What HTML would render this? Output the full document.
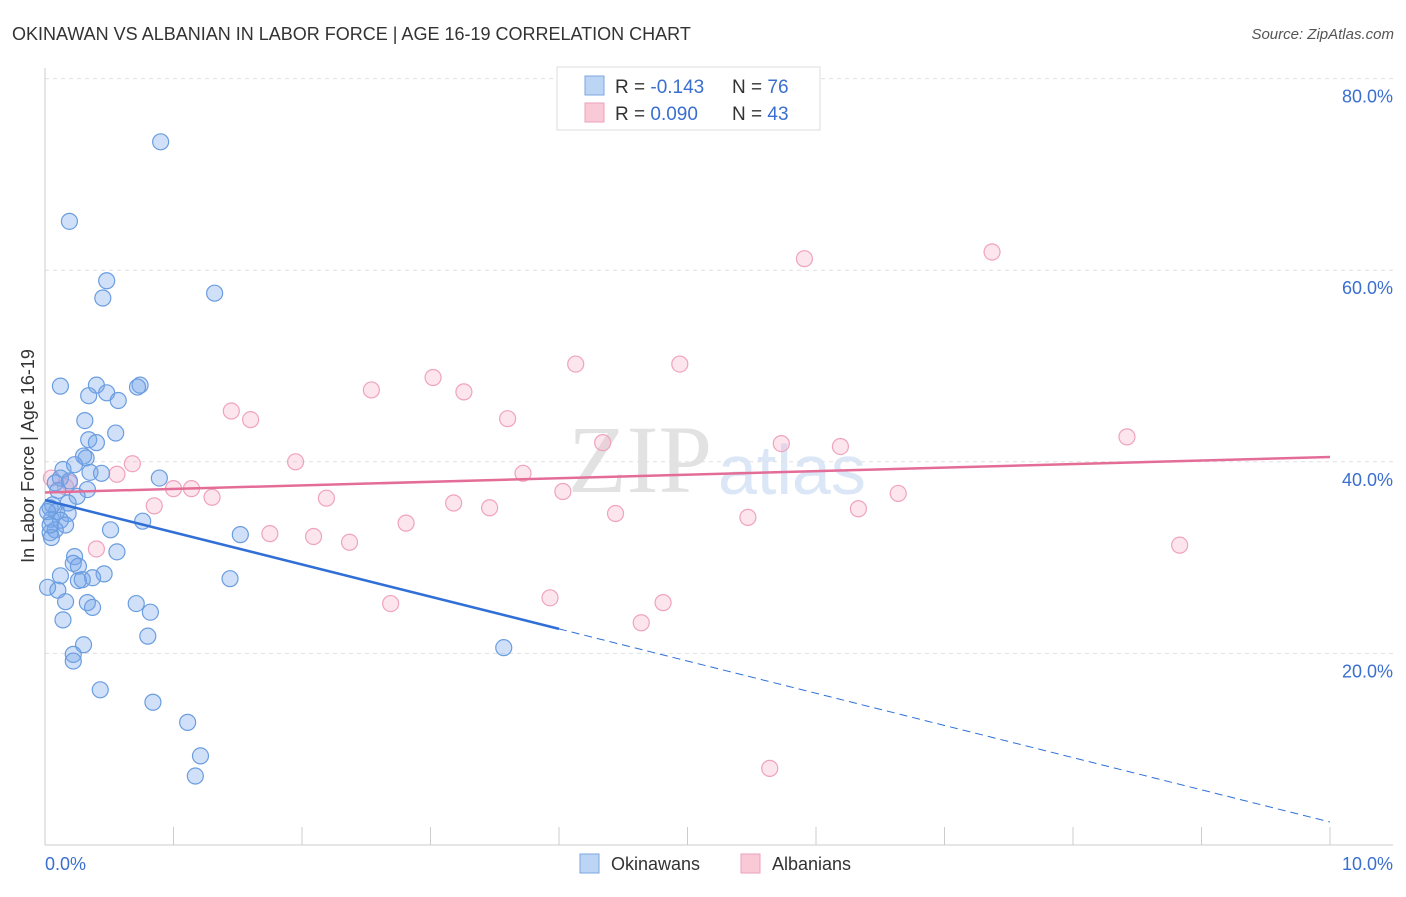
<!DOCTYPE html>
<html><head><meta charset="utf-8"><style>
body{margin:0;background:#fff;font-family:"Liberation Sans",sans-serif}
svg text{font-family:"Liberation Sans",sans-serif}
</style></head><body>
<svg id="chart" width="1406" height="892">
<text x="12" y="40" font-size="18" fill="#333">OKINAWAN VS ALBANIAN IN LABOR FORCE | AGE 16-19 CORRELATION CHART</text>
<text x="1394" y="39" font-size="15" fill="#555" font-style="italic" text-anchor="end">Source: ZipAtlas.com</text>
<text x="712" y="492" font-size="96" fill="#e2e2e2" style="font-family:'Liberation Serif',serif" text-anchor="end">ZIP</text>
<text x="718" y="494" font-size="70" fill="#dbe7f6">atlas</text>
<g id="grid"></g>
<g id="axes"></g>
<g id="marks"></g>
<text transform="translate(34,456) rotate(-90)" font-size="18" fill="#333" text-anchor="middle">In Labor Force | Age 16-19</text>
<text x="45" y="870" font-size="18" fill="#3a6fd0">0.0%</text>
<text x="1393" y="870" font-size="18" fill="#3a6fd0" text-anchor="end">10.0%</text>
<g>
<rect x="557" y="67" width="263" height="63" fill="#fff" stroke="#ddd"/>
<rect x="585" y="76" width="19" height="19" fill="#bcd5f5" stroke="#7aa6e0"/>
<rect x="585" y="103" width="19" height="19" fill="#f9c9d8" stroke="#eba2ba"/>
<text x="615" y="93" font-size="19" fill="#333">R = <tspan fill="#3a6fd0">-0.143</tspan><tspan x="732">N = </tspan><tspan fill="#3a6fd0">76</tspan></text>
<text x="615" y="120" font-size="19" fill="#333">R = <tspan fill="#3a6fd0">0.090</tspan><tspan x="732">N = </tspan><tspan fill="#3a6fd0">43</tspan></text>
</g>
<g>
<rect x="580" y="854" width="19" height="19" fill="#bcd5f5" stroke="#7aa6e0"/>
<text x="611" y="870" font-size="18" fill="#333">Okinawans</text>
<rect x="741" y="854" width="19" height="19" fill="#f9c9d8" stroke="#eba2ba"/>
<text x="772" y="870" font-size="18" fill="#333">Albanians</text>
</g>
</svg>
<script>
const yTicks=[20,40,60,80];
const xTicks=[0,1,2,3,4,5,6,7,8,9,10];
const okiX=[0.90,0.19,0.48,0.45,1.32,0.12,0.40,0.74,0.72,0.34,0.48,0.57,0.31,0.55,0.34,0.40,0.30,0.32,0.14,0.23,0.35,0.44,0.12,0.19,0.08,0.10,0.33,0.25,0.18,0.04,0.09,0.18,0.05,0.12,0.16,0.08,0.04,0.51,0.76,1.52,0.05,0.56,0.23,0.22,0.26,0.12,0.46,0.37,0.26,0.29,0.02,0.10,0.16,0.33,0.71,0.82,0.37,0.14,0.80,0.30,0.22,0.22,3.57,1.44,0.43,0.84,1.11,1.21,1.17,0.89,0.06,0.02,0.04];
const okiY=[73.4,65.1,58.9,57.1,57.6,47.9,48.0,48.0,47.8,46.9,47.2,46.4,44.3,43.0,42.3,42.0,40.6,40.4,39.2,39.7,38.9,38.8,38.3,38.0,37.8,37.0,37.1,36.4,35.7,35.2,34.8,34.6,34.0,33.9,33.4,32.9,32.6,32.9,33.8,32.4,32.1,30.6,30.1,29.4,29.1,28.1,28.3,27.9,27.6,27.7,26.9,26.6,25.4,25.3,25.2,24.3,24.8,23.5,21.8,20.9,19.9,19.2,20.6,27.8,16.2,14.9,12.8,9.3,7.2,38.3,35.5,34.8,33.4];
const albX=[0.05,0.16,0.19,0.56,0.68,0.40,0.85,1.00,1.14,1.30,1.45,1.60,1.75,1.95,2.09,2.19,2.37,2.54,2.69,2.81,3.02,3.18,3.26,3.46,3.60,3.72,3.93,4.03,4.13,4.34,4.44,4.64,4.81,4.94,5.47,5.64,5.73,5.91,6.19,6.33,6.64,7.37,8.42,8.83];
const albY=[38.3,37.4,37.8,38.7,39.8,30.9,35.4,37.2,37.2,36.3,45.3,44.4,32.5,40.0,32.2,36.2,31.6,47.5,25.2,33.6,48.8,35.7,47.3,35.2,44.5,38.8,25.8,36.9,50.2,42.0,34.6,23.2,25.3,50.2,34.2,8.0,41.9,61.2,41.6,35.1,36.7,61.9,42.6,31.3];
const okiTrend=[36.0,2.4];
const albTrend=[36.8,40.5];
const okiSolidEnd=4;
const NS='http://www.w3.org/2000/svg';
const X=v=>45+v*128.5, Y=v=>845-v*9.58;
function mk(t,a,p){const e=document.createElementNS(NS,t);for(const k in a)e.setAttribute(k,a[k]);p.appendChild(e);return e;}
const grid=document.getElementById('grid'),axes=document.getElementById('axes'),marks=document.getElementById('marks');
yTicks.forEach(t=>{
 const l=mk('line',{x1:45,x2:1393,y1:Y(t),y2:Y(t),stroke:'#e0e0e0','stroke-dasharray':'4,4'},grid);
 
 
 const tx=mk('text',{x:1393,y:Y(t)+24,'font-size':18,fill:'#3a6fd0','text-anchor':'end'},grid);
 tx.textContent=t.toFixed(1)+'%';
 
 
});
const la=mk('line',{x1:45,x2:45,y1:68,y2:845,stroke:'#ccc'},axes);


const lb=mk('line',{x1:45,x2:1393,y1:845,y2:845,stroke:'#ccc'},axes);


xTicks.forEach(t=>{
 const l=mk('line',{x1:X(t),x2:X(t),y1:827,y2:845,stroke:'#ccc'},axes);
 
 
});
function pts(xs,ys,fill,stroke,name){
 xs.forEach((x,i)=>{
  const c=mk('circle',{cx:X(x),cy:Y(ys[i]),r:8,fill:fill,stroke:stroke,'stroke-width':1.2},marks);
  
  
 });
}
pts(albX,albY,'rgba(244,170,196,0.3)','#efa3bd','albanian-point');
pts(okiX,okiY,'rgba(120,165,235,0.35)','#6a9de0','okinawan-point');
const ts=mk('line',{x1:X(0),y1:Y(okiTrend[0]),x2:X(okiSolidEnd),y2:Y(okiTrend[0]+(okiTrend[1]-okiTrend[0])*okiSolidEnd/10),stroke:'#2f6fd6','stroke-width':2.5},marks);


const td=mk('line',{x1:X(okiSolidEnd),y1:Y(okiTrend[0]+(okiTrend[1]-okiTrend[0])*okiSolidEnd/10),x2:X(10),y2:Y(okiTrend[1]),stroke:'#2f6fd6','stroke-width':1,'stroke-dasharray':'8,5'},marks);


const tp=mk('line',{x1:X(0),y1:Y(albTrend[0]),x2:X(10),y2:Y(albTrend[1]),stroke:'#e46d98','stroke-width':2.5},marks);


</script>
</body></html>
